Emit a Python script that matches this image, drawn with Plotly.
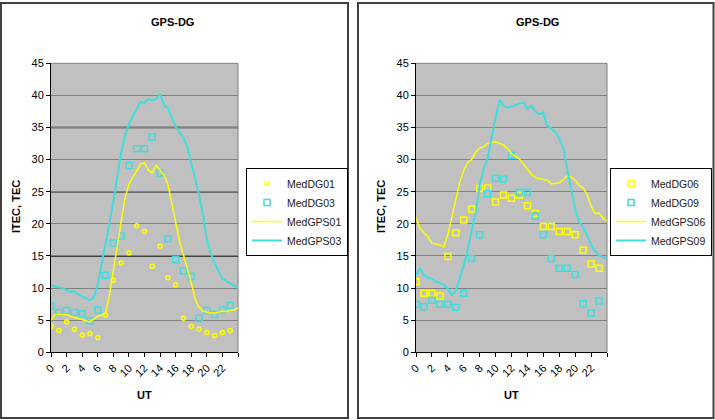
import plotly.graph_objects as go

# ---------------- data ----------------
hours_dg = list(range(24))
hours_gps = [i * 0.5 for i in range(49)]
tick_vals = list(range(0, 25, 2))
tick_text = [str(v) for v in range(0, 23, 2)] + [""]

# Left panel
med_dg01 = [4.0, 3.4, 4.7, 3.6, 2.7, 2.9, 2.3, 5.8, 11.2, 13.9, 15.5, 19.7,
            18.8, 13.4, 16.5, 11.6, 10.5, 5.3, 4.0, 3.6, 3.1, 2.6, 3.1, 3.4]
med_dg03 = [7.2, 6.2, 6.5, 6.2, 6.0, 4.9, 6.6, 12.0, 17.0, 18.1, 29.1, 31.7,
            31.7, 33.5, 27.9, 17.7, 14.4, 12.7, 11.8, 5.3, 6.5, 5.9, 6.6, 7.3]
med_gps01 = [5.0, 5.8, 5.9, 5.9, 5.9, 5.6, 5.4, 5.2, 5.0, 4.9, 4.8, 5.2, 5.6,
             5.8, 6.1, 8.9, 12.8, 16.6, 20.3, 24.0, 26.2, 27.3, 28.4, 29.3,
             29.5, 28.4, 27.9, 29.1, 28.4, 27.6, 26.2, 23.3, 20.2, 17.3, 15.2,
             13.1, 10.8, 8.3, 7.0, 6.4, 6.2, 6.1, 6.1, 6.2, 6.4, 6.3, 6.6, 6.6, 6.9]
med_gps03 = [10.4, 10.3, 10.1, 10.0, 9.7, 9.4, 9.5, 9.0, 8.7, 8.4, 8.1, 8.5,
             10.5, 13.8, 16.8, 20.0, 23.5, 27.5, 31.0, 33.8, 35.5, 36.8, 38.0,
             39.0, 38.8, 39.5, 39.2, 39.5, 40.3, 38.5, 38.0, 36.5, 35.1, 34.3,
             33.3, 32.0, 29.5, 27.0, 24.5, 21.5, 17.5, 15.5, 13.8, 12.6, 11.5,
             11.1, 10.8, 10.4, 10.0]

# Right panel
med_dg06 = [11.0, 9.2, 9.2, 8.75, 14.9, 18.6, 20.6, 22.3, 25.5, 25.6, 23.4, 24.5,
            24.0, 24.5, 22.8, 21.6, 19.6, 19.6, 18.8, 18.8, 18.3, 15.9, 13.75, 13.1]
med_dg09 = [7.5, 7.1, 8.1, 7.5, 7.5, 7.0, 9.2, 14.6, 18.3, 24.7, 27.1, 27.0,
            30.7, 24.9, 24.9, 21.2, 18.3, 14.6, 13.1, 13.1, 12.1, 7.55, 6.1, 8.0]
med_gps06 = [21.0, 19.3, 18.6, 18.0, 17.0, 16.9, 16.7, 16.4, 18.3, 21.0, 24.0,
             26.5, 28.3, 29.6, 30.0, 31.2, 31.8, 32.0, 32.5, 32.7, 32.8, 32.5,
             32.3, 31.7, 31.0, 30.5, 30.1, 29.3, 28.5, 27.7, 27.2, 27.0, 26.9,
             26.8, 26.2, 26.3, 26.4, 26.9, 27.5, 27.3, 26.8, 26.0, 25.6, 24.6,
             22.8, 21.6, 21.7, 20.9, 20.5]
med_gps09 = [12.0, 13.1, 12.0, 11.6, 11.5, 11.0, 10.8, 10.5, 9.9, 8.9, 9.6, 11.5,
             13.5, 16.0, 18.8, 21.8, 26.0, 28.6, 30.2, 33.6, 36.5, 39.3, 38.4,
             38.1, 38.3, 38.5, 38.6, 38.9, 37.9, 38.4, 37.5, 37.1, 37.3, 35.2,
             34.9, 34.3, 33.3, 31.8, 28.5, 25.2, 22.3, 20.3, 19.5, 18.2, 16.8,
             15.7, 15.1, 14.8, 14.6]

# ---------------- styles ----------------
W, H = 715, 420
YEL = "#FFFF00"
CYA = "#40DCDC"
FONT = "Liberation Sans, Arial, sans-serif"

def px_x(v):
    return v / W

def px_y(v):
    return 1 - v / H

fig = go.Figure()

# left panel traces
fig.add_trace(go.Scatter(x=hours_dg, y=med_dg01, mode="markers", name="MedDG01",
                         marker=dict(symbol="circle-open", size=4, color=YEL, line=dict(width=1.5)),
                         xaxis="x", yaxis="y", legend="legend"))
fig.add_trace(go.Scatter(x=hours_dg, y=med_dg03, mode="markers", name="MedDG03",
                         marker=dict(symbol="square-open", size=6, color=CYA, line=dict(width=1.5)),
                         xaxis="x", yaxis="y", legend="legend"))
fig.add_trace(go.Scatter(x=hours_gps, y=med_gps01, mode="lines", name="MedGPS01",
                         line=dict(color=YEL, width=1.5),
                         xaxis="x", yaxis="y", legend="legend"))
fig.add_trace(go.Scatter(x=hours_gps, y=med_gps03, mode="lines", name="MedGPS03",
                         line=dict(color=CYA, width=2),
                         xaxis="x", yaxis="y", legend="legend"))

# right panel traces
fig.add_trace(go.Scatter(x=hours_dg, y=med_dg06, mode="markers", name="MedDG06",
                         marker=dict(symbol="square-open", size=6, color=YEL, line=dict(width=1.5)),
                         xaxis="x2", yaxis="y2", legend="legend2"))
fig.add_trace(go.Scatter(x=hours_dg, y=med_dg09, mode="markers", name="MedDG09",
                         marker=dict(symbol="square-open", size=6, color=CYA, line=dict(width=1.5)),
                         xaxis="x2", yaxis="y2", legend="legend2"))
fig.add_trace(go.Scatter(x=hours_gps, y=med_gps06, mode="lines", name="MedGPS06",
                         line=dict(color=YEL, width=1.5),
                         xaxis="x2", yaxis="y2", legend="legend2"))
fig.add_trace(go.Scatter(x=hours_gps, y=med_gps09, mode="lines", name="MedGPS09",
                         line=dict(color=CYA, width=2),
                         xaxis="x2", yaxis="y2", legend="legend2"))

ydom = [px_y(352.3), px_y(63.3)]
xdom1 = [px_x(51), px_x(238)]
xdom2 = [px_x(416), px_x(607)]

def xaxis_style(domain, anchor):
    return dict(domain=domain, anchor=anchor, range=[0, 24], tickmode="array",
                tickvals=tick_vals, ticktext=tick_text, tickangle=-45,
                showgrid=False, zeroline=False, showline=True, linecolor="black",
                linewidth=1, ticks="outside", ticklen=4, tickcolor="black",
                automargin=False,
                tickfont=dict(family=FONT, size=11, color="black"))

def yaxis_style(anchor):
    return dict(domain=ydom, anchor=anchor, range=[0, 45], dtick=5,
                showgrid=True, gridcolor="#808080", gridwidth=1, zeroline=False,
                showline=True, linecolor="black", linewidth=1, ticks="outside",
                ticklen=4, tickcolor="black", automargin=False,
                tickfont=dict(family=FONT, size=11, color="black"))

legend_common = dict(bgcolor="white", bordercolor="black", borderwidth=1,
                     font=dict(family=FONT, size=10.5, color="#222"),
                     xanchor="left", yanchor="top", itemwidth=30, tracegroupgap=0)

fig.update_layout(
    width=W, height=H,
    margin=dict(l=0, r=0, t=0, b=0, autoexpand=False),
    paper_bgcolor="white",
    plot_bgcolor="#C0C0C0",
    font=dict(family=FONT, size=11, color="black"),
    xaxis=xaxis_style(xdom1, "y"),
    yaxis=yaxis_style("x"),
    xaxis2=xaxis_style(xdom2, "y2"),
    yaxis2=yaxis_style("x2"),
    legend=dict(x=px_x(246), y=px_y(168), **legend_common),
    legend2=dict(x=px_x(610), y=px_y(168), **legend_common),
    showlegend=True,
)

shapes = []
# panel frames
for x0, x1 in [(1, 348), (358, 713.5)]:
    shapes.append(dict(type="rect", xref="paper", yref="paper",
                       x0=px_x(x0), x1=px_x(x1), y0=px_y(418), y1=px_y(3),
                       line=dict(color="#404040", width=2), layer="above"))
# plot area top and right borders
for xr, yr in [("x domain", "y domain"), ("x2 domain", "y2 domain")]:
    shapes.append(dict(type="line", xref=xr, yref=yr, x0=1, x1=1, y0=0, y1=1,
                       line=dict(color="#808080", width=1), layer="below"))
    shapes.append(dict(type="line", xref=xr, yref=yr, x0=0, x1=1, y0=1, y1=1,
                       line=dict(color="#808080", width=1), layer="below"))
# darker grid lines in the left panel
for yv in (15, 25, 35):
    shapes.append(dict(type="line", xref="x domain", yref="y", x0=0, x1=1, y0=yv, y1=yv,
                       line=dict(color="#1a1a1a", width=1.5), layer="below"))
fig.update_layout(shapes=shapes)

ann = []
common_ann = dict(xref="paper", yref="paper", showarrow=False,
                  xanchor="center", yanchor="middle",
                  font=dict(family=FONT, size=11, color="black"))
for cx in (172, 537):
    ann.append(dict(x=px_x(cx), y=px_y(22), text="<b>GPS-DG</b>", **common_ann))
for cx in (16, 381):
    ann.append(dict(x=px_x(cx), y=px_y(207), text="<b>ITEC, TEC</b>", textangle=-90, **common_ann))
for cx in (144.5, 511.5):
    ann.append(dict(x=px_x(cx), y=px_y(395), text="<b>UT</b>", **common_ann))
fig.update_layout(annotations=ann)

fig.write_html("out.html")
